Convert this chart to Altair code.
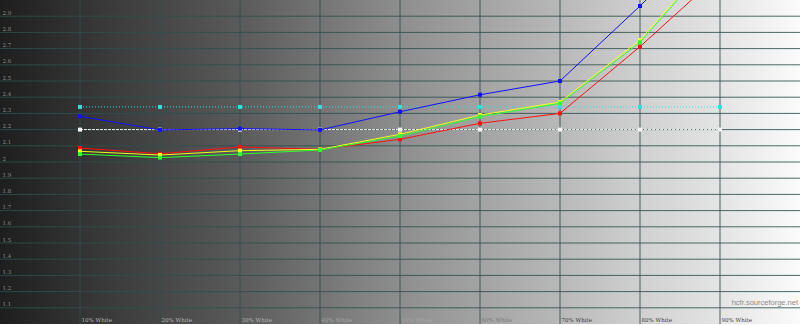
import altair as alt
import pandas as pd

# ---- data ----
levels = [10, 20, 30, 40, 50, 60, 70, 80, 90]
red    = [2.086, 2.051, 2.093, 2.078, 2.140, 2.239, 2.300, 2.712, 3.16]
yellow = [2.066, 2.043, 2.070, 2.078, 2.171, 2.290, 2.370, 2.753, 3.31]
green  = [2.049, 2.027, 2.049, 2.074, 2.160, 2.280, 2.362, 2.739, 3.30]
blue   = [2.282, 2.198, 2.206, 2.198, 2.310, 2.415, 2.500, 2.963, 3.45]
avg_gamma    = [2.34] * 9
target_gamma = [2.2] * 9
y_ticks = [1.1, 1.2, 1.3, 1.4, 1.5, 1.6, 1.7, 1.8, 1.9, 2.0,
           2.1, 2.2, 2.3, 2.4, 2.5, 2.6, 2.7, 2.8, 2.9]

series = [
    ("target", target_gamma, "#f2f2f2", [3, 1]),
    ("avg", avg_gamma, "#2fe0e0", [1, 2]),
    ("red", red, "#ff1010", None),
    ("blue", blue, "#1010ff", None),
    ("yellow", yellow, "#f0ff20", None),
    ("green", green, "#30ff30", None),
]

xs = alt.Scale(domain=[0, 100], nice=False, zero=False)
ys = alt.Scale(domain=[1.0, 3.0], nice=False, zero=False)

x_axis = alt.Axis(
    values=levels, grid=False, ticks=False, domain=False, zindex=2,
    labelOverlap=False,
    labelExpr="datum.value + '% White'",
    labelFont="DejaVu Serif", labelFontSize=5.5,
    labelColor=alt.expr("datum.value <= 30 ? '#b4b4b4' : (datum.value <= 50 ? '#a6a6a6' : (datum.value <= 60 ? '#7a7a7a' : '#444444'))"),
    labelAlign="left", labelBaseline="bottom", labelPadding=-2, labelOffset=1,
    title=None,
)
y_axis = alt.Axis(
    values=y_ticks, grid=False, ticks=False, domain=False, format="~g", zindex=2,
    labelOverlap=False,
    labelFont="DejaVu Serif", labelFontSize=5.5, labelColor="#8a8a8a",
    labelAlign="left", labelBaseline="bottom", labelPadding=-2, labelOffset=-1,
    title=None,
)

gradient = alt.LinearGradient(
    gradient="linear", x1=0, y1=0, x2=1, y2=0,
    stops=[
        alt.GradientStop(offset=0.0, color="#1e1e1e"),
        alt.GradientStop(offset=0.1, color="#333333"),
        alt.GradientStop(offset=0.3, color="#5a5a5a"),
        alt.GradientStop(offset=0.5, color="#8e8e8e"),
        alt.GradientStop(offset=0.7, color="#b8b8b8"),
        alt.GradientStop(offset=0.8, color="#d0d0d0"),
        alt.GradientStop(offset=0.9, color="#e4e4e4"),
        alt.GradientStop(offset=1.0, color="#fbfbfb"),
    ],
)

bg = alt.Chart(pd.DataFrame({"a": [0]})).mark_rect(fill=gradient, strokeWidth=0).encode(
    x=alt.value(0), x2=alt.value(800), y=alt.value(0), y2=alt.value(325)
)

grid_color = "#2f4f4f"
vgrid = alt.Chart(pd.DataFrame({"level": levels})).mark_rule(
    color=grid_color, strokeWidth=1, opacity=0.85
).encode(x=alt.X("level:Q", scale=xs, axis=x_axis))
hgrid = alt.Chart(pd.DataFrame({"gamma": y_ticks})).mark_rule(
    color=grid_color, strokeWidth=1, opacity=0.85
).encode(y=alt.Y("gamma:Q", scale=ys, axis=y_axis))

layers = [bg, vgrid, hgrid]
for name, vals, col, dash in series:
    df = pd.DataFrame({"level": levels, "gamma": vals})
    enc = dict(
        x=alt.X("level:Q", scale=xs, axis=x_axis),
        y=alt.Y("gamma:Q", scale=ys, axis=y_axis),
    )
    line_kw = dict(color=col, strokeWidth=1, clip=True)
    if dash:
        line_kw["strokeDash"] = dash
    layers.append(alt.Chart(df).mark_line(**line_kw).encode(**enc))
    layers.append(
        alt.Chart(df).mark_square(color=col, size=16, opacity=1, clip=True).encode(**enc)
    )

watermark = alt.Chart(pd.DataFrame({"t": ["hcfr.sourceforge.net"]})).mark_text(
    align="right", baseline="bottom", font="Liberation Sans", fontSize=7.5, color="#8c8c8c"
).encode(text="t:N", x=alt.value(798), y=alt.value(307))

chart = alt.layer(*layers, watermark).properties(
    width=800, height=324,
    autosize=alt.AutoSizeParams(type="none"),
    padding=0,
    background="#ffffff",
).configure_view(strokeWidth=0).configure_axis(labelOverlap=False, labelBound=False, labelFlush=False)

chart.save("out.html", embed_options={"renderer": "svg", "actions": False})
